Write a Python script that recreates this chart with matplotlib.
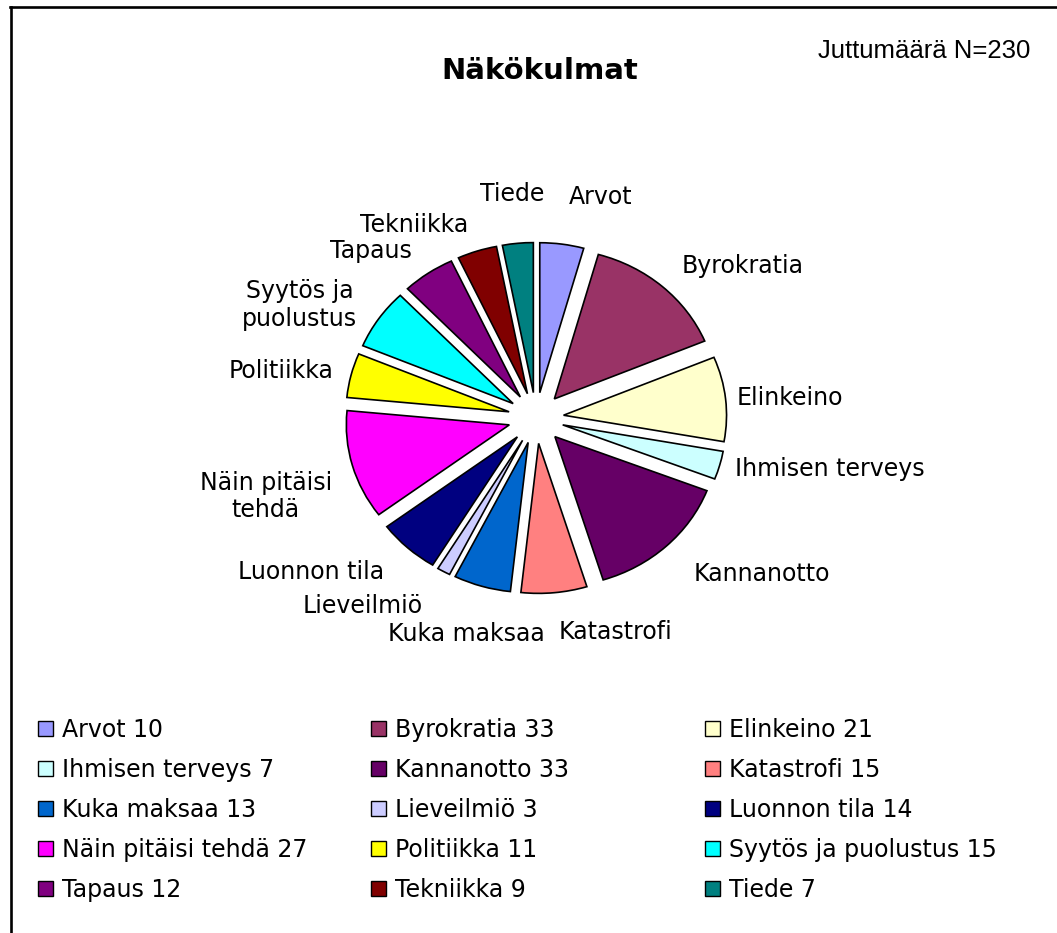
import matplotlib
matplotlib.use("Agg")
import matplotlib.pyplot as plt
from matplotlib.patches import Patch
from matplotlib.lines import Line2D
import numpy as np

# ---- data ----
CATEGORIES = ["Arvot", "Byrokratia", "Elinkeino", "Ihmisen terveys", "Kannanotto",
              "Katastrofi", "Kuka maksaa", "Lieveilmiö", "Luonnon tila",
              "Näin pitäisi tehdä", "Politiikka", "Syytös ja puolustus",
              "Tapaus", "Tekniikka", "Tiede"]
VALUES = [10, 33, 21, 7, 33, 15, 13, 3, 14, 27, 11, 15, 12, 9, 7]
PIE_LABELS = ["Arvot", "Byrokratia", "Elinkeino", "Ihmisen terveys", "Kannanotto",
              "Katastrofi", "Kuka maksaa", "Lieveilmiö", "Luonnon tila",
              "Näin pitäisi\ntehdä", "Politiikka", "Syytös ja\npuolustus",
              "Tapaus", "Tekniikka", "Tiede"]
COLORS = ["#9999FF", "#993366", "#FFFFCC", "#CCFFFF", "#660066",
          "#FF8080", "#0066CC", "#CCCCFF", "#000080", "#FF00FF",
          "#FFFF00", "#00FFFF", "#800080", "#800000", "#008080"]
TITLE = "Näkökulmat"
NOTE = "Juttumäärä N=230"

# ---- style ----
LABEL_DIST = [1.49, 1.35, 1.24, 1.27, 1.42, 1.43, 1.5, 1.43, 1.39, 1.3, 1.28, 1.33, 1.35, 1.35, 1.5]
LABEL_HA = ['left', 'left', 'left', 'left', 'left', 'left', 'center', 'right', 'right',
            'right', 'right', 'right', 'right', 'right', 'center']
LABEL_VA = ['center'] * 9 + ['top'] + ['center'] * 5
EXPLODE = 0.17
FS = 17

W, H = 1057, 933
fig = plt.figure(figsize=(W / 100, H / 100), dpi=100)
fig.patch.set_facecolor("white")

# pie axes (slightly elliptical like the original)
cx, cy = 536, 418
ux, uy = 163, 150
lim = 1.6
ax = fig.add_axes([(cx - lim * ux) / W, (H - cy - lim * uy) / H,
                   2 * lim * ux / W, 2 * lim * uy / H])
wedges, _ = ax.pie(VALUES, colors=COLORS, startangle=90, counterclock=False,
                   explode=[EXPLODE] * len(VALUES),
                   wedgeprops=dict(edgecolor="black", linewidth=1.2))
ax.set_aspect("auto")
ax.set_xlim(-lim, lim)
ax.set_ylim(-lim, lim)
ax.axis("off")

for w, lab, d, ha, va in zip(wedges, PIE_LABELS, LABEL_DIST, LABEL_HA, LABEL_VA):
    ang = np.deg2rad((w.theta1 + w.theta2) / 2)
    ax.text(d * np.cos(ang), d * np.sin(ang), lab, ha=ha, va=va,
            multialignment="center", fontsize=FS, family="DejaVu Sans",
            color="black", linespacing=1.2)

# title and note
fig.text(540 / W, 1 - 71 / H, TITLE, ha="center", va="center",
         fontsize=21, fontweight="bold", family="DejaVu Sans")
fig.text(1030 / W, 1 - 51 / H, NOTE, ha="right", va="center",
         fontsize=18.5, family="Liberation Sans")

# legend in three columns, row-major order
ncols = 3
col_x = [38, 371, 705]
n = len(CATEGORIES)
for c in range(ncols):
    idx = list(range(c, n, ncols))
    handles = [Patch(facecolor=COLORS[i], edgecolor="black", linewidth=1.0) for i in idx]
    labels = [f"{CATEGORIES[i]} {VALUES[i]}" for i in idx]
    fig.legend(handles, labels, loc="upper left",
               bbox_to_anchor=(col_x[c] / W, 1 - 718 / H),
               frameon=False, borderpad=0, borderaxespad=0,
               handlelength=0.65, handleheight=0.6, handletextpad=0.35,
               labelspacing=0.68, prop=dict(family="DejaVu Sans", size=FS))

# frame lines (top and left)
fig.add_artist(Line2D([10 / W, 1], [1 - 7 / H, 1 - 7 / H], color="black", linewidth=1.9,
                      transform=fig.transFigure))
fig.add_artist(Line2D([11 / W, 11 / W], [0, 1 - 7 / H], color="black", linewidth=1.9,
                      transform=fig.transFigure))

fig.savefig("out.png", dpi=100, facecolor="white")
